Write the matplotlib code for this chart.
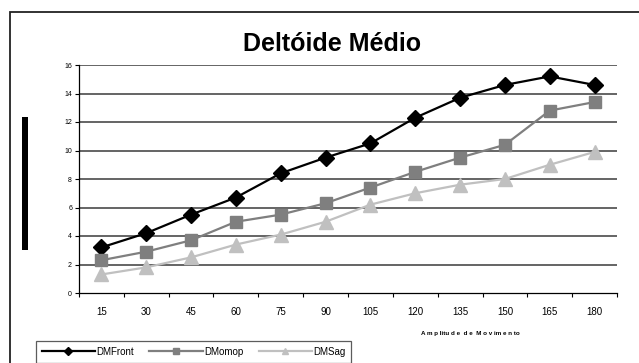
import matplotlib.pyplot as plt
from matplotlib.patches import Rectangle
import numpy as np

plt.rcParams['font.family'] = ['Liberation Sans', 'DejaVu Sans']

amplitude = ['15', '30', '45', '60', '75', '90', '105', '120', '135', '150', '165', '180']
dm_front = [3.2, 4.2, 5.5, 6.7, 8.4, 9.5, 10.5, 12.3, 13.7, 14.6, 15.2, 14.6]
dm_omop = [2.3, 2.9, 3.7, 5.0, 5.5, 6.3, 7.4, 8.5, 9.5, 10.4, 12.8, 13.4]
dm_sag = [1.3, 1.8, 2.5, 3.4, 4.1, 5.0, 6.2, 7.0, 7.6, 8.0, 9.0, 9.9]

W, H = 639, 363
fig = plt.figure(figsize=(W / 100, H / 100), dpi=100)
fig.patch.set_facecolor('white')

# outer chart frame (only left/top visible)
fig.add_artist(Rectangle((10 / W, -0.1), 1.2, 1 - 12 / H + 0.1, transform=fig.transFigure,
                         fill=False, edgecolor='#222222', lw=1.3))
# the garbled y-axis label renders as a black bar
fig.add_artist(Rectangle((22 / W, 1 - 250 / H), 6 / W, 133 / H, transform=fig.transFigure,
                         facecolor='black', edgecolor='none'))

ax = fig.add_axes([79 / W, 1 - 293 / H, (617 - 79) / W, (293 - 65) / H])
x = np.arange(len(amplitude))

for yv in range(2, 17, 2):
    ax.axhline(yv, color='#3a3a3a', lw=1.1, zorder=1)

ax.plot(x, dm_front, color='black', lw=1.6, marker='D', ms=8.5, label='DMFront', zorder=3)
ax.plot(x, dm_omop, color='#7f7f7f', lw=1.6, marker='s', ms=8.5, label='DMomop', zorder=3)
ax.plot(x, dm_sag, color='#c0c0c0', lw=1.6, marker='^', ms=9.5, label='DMSag', zorder=3)

ax.set_xlim(-0.5, len(amplitude) - 0.5)
ax.set_ylim(0, 16)
ax.set_yticks(range(0, 17, 2))
ax.tick_params(axis='y', labelsize=5, length=3, width=0.8, pad=2)
ax.set_xticks(np.arange(len(amplitude) + 1) - 0.5)
ax.set_xticklabels([])
ax.set_xticks(x, minor=True)
ax.set_xticklabels(amplitude, minor=True)
ax.tick_params(axis='x', which='major', length=3, width=0.8)
ax.tick_params(axis='x', which='minor', length=0, labelsize=7, pad=10)

for s in ['top', 'right']:
    ax.spines[s].set_visible(False)
ax.spines['left'].set_linewidth(0.9)
ax.spines['bottom'].set_linewidth(0.9)

fig.text(332 / W, 1 - 44 / H, 'Deltóide Médio', ha='center', va='center',
         fontsize=18, fontweight='bold')
fig.text(470 / W, 1 - 334 / H, 'A m p litu d e  d e  M o v im e n to', ha='center', va='center',
         fontsize=4.5, fontweight='bold')

leg = fig.legend(loc='upper left', bbox_to_anchor=(31 / W, 1 - 336 / H), ncol=3,
                 fontsize=7, frameon=True, fancybox=False, edgecolor='#333333',
                 handlelength=5.5, columnspacing=1.6, handletextpad=0.1,
                 borderpad=0.6, markerscale=0.5)
leg.get_frame().set_linewidth(0.9)

fig.savefig('out.png', dpi=100)
